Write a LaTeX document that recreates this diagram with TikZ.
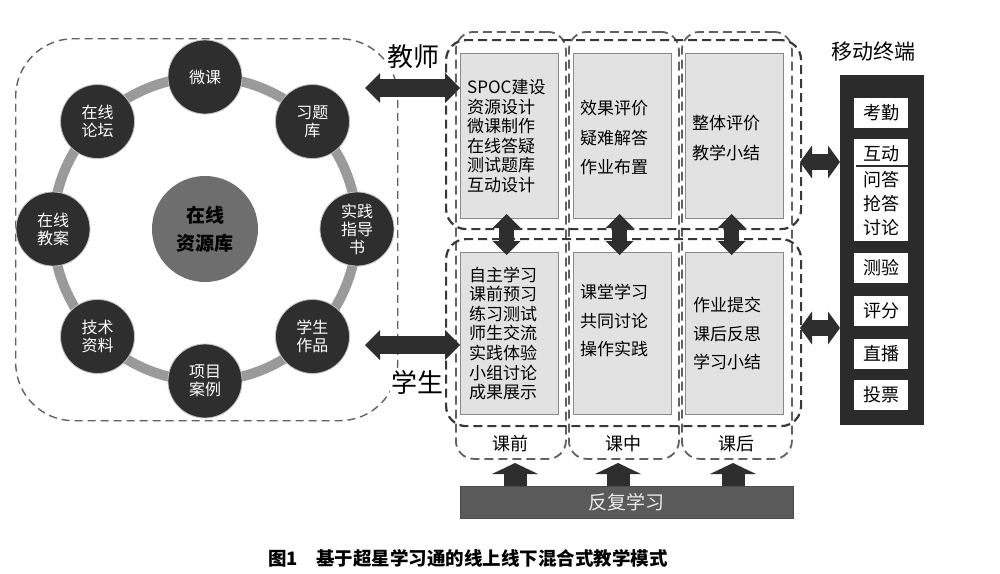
\documentclass[tikz,border=0pt]{standalone}
\usepackage{fontspec}
\setmainfont{Noto Sans CJK SC}
\usetikzlibrary{arrows.meta,calc}
\definecolor{dk}{HTML}{2E2E2E}
\definecolor{ringc}{HTML}{9A9A9A}
\definecolor{hubc}{HTML}{6E6E6E}
\definecolor{boxc}{HTML}{E2E2E2}
\definecolor{boxd}{HTML}{8A8A8A}
\definecolor{barc}{HTML}{5A5A5A}
\definecolor{mobc}{HTML}{2B2B2B}
\tikzset{
  bigdash/.style={draw=black!62, dash pattern=on 8pt off 5pt, line width=1.4pt, rounded corners=58pt, inner sep=0pt},
  rowgrp/.style={draw=black!78, dash pattern=on 9pt off 5pt, line width=2.2pt, rounded corners=20pt, inner sep=0pt, anchor=north west},
  colgrp/.style={draw=black!62, dash pattern=on 9pt off 5pt, line width=1.8pt, rounded corners=18pt, inner sep=0pt, anchor=north west},
  ringline/.style={draw=ringc, line width=10pt},
  hub/.style={circle, fill=hubc, minimum size=106pt, inner sep=0pt, align=center, font=\bfseries\fontsize{19}{28}\selectfont},
  sat/.style={circle, fill=dk, draw=black!25, line width=0.8pt, minimum size=74pt, inner sep=0pt, text=white, align=center, font=\fontsize{16}{18}\selectfont},
  graybox/.style={rectangle, fill=boxc, draw=boxd, line width=1pt, inner sep=0pt, anchor=north west, minimum width=98pt},
  boxtxt/.style={inner sep=0pt, align=left, anchor=west, font=\fontsize{17}{19.6}\selectfont},
  boxtxtw/.style={inner sep=0pt, align=left, anchor=west, font=\fontsize{17}{29.5}\selectfont},
  bigfont/.style={fill=white, inner sep=1pt, font=\fontsize{26}{30}\selectfont},
  phase/.style={inner sep=0pt, font=\fontsize{18}{20}\selectfont},
  dbl/.style n args={3}{draw=dk, line width=#1, arrows={Triangle[width=#2,length=#3,line width=0pt]-Triangle[width=#2,length=#3,line width=0pt]}},
  sgl/.style n args={3}{draw=dk, line width=#1, arrows={-Triangle[width=#2,length=#3,line width=0pt]}},
  mob/.style={rectangle, fill=mobc, inner sep=0pt, anchor=north west},
  wbox/.style={rectangle, fill=white, inner sep=0pt, minimum width=54pt, minimum height=30pt, font=\fontsize{18}{20}\selectfont},
  wtxt/.style={inner sep=0pt, align=center, font=\fontsize{18}{24}\selectfont},
  barbox/.style={rectangle, fill=barc, draw=black!70, line width=0.6pt, inner sep=0pt, anchor=north west, text=black!8, font=\fontsize{19}{22}\selectfont},
}
\begin{document}
\begin{tikzpicture}[x=1pt,y=-1pt]
\useasboundingbox[fill=white] (0,0) rectangle (1000,573);

% left resource group
\node[bigdash, anchor=north west, minimum width=382pt, minimum height=382pt] (lg) at (15,38) {};

% column groups and row groups
\node[colgrp, minimum width=110pt, minimum height=427pt] (cg1) at (455,31) {};
\node[colgrp, minimum width=110pt, minimum height=427pt] (cg2) at (568,31) {};
\node[colgrp, minimum width=110pt, minimum height=427pt] (cg3) at (681,31) {};
\node[rowgrp, minimum width=355pt, minimum height=189pt] (rg1) at (445,39) {};
\node[rowgrp, minimum width=355pt, minimum height=187pt] (rg2) at (445,238) {};

% gray boxes
\node[graybox, minimum height=165pt] (b1) at (460,53) {};
\node[graybox, minimum height=165pt] (b2) at (573,53) {};
\node[graybox, minimum height=165pt] (b3) at (685,53) {};
\node[graybox, minimum height=162pt] (c1) at (460,252) {};
\node[graybox, minimum height=162pt] (c2) at (573,252) {};
\node[graybox, minimum height=162pt] (c3) at (685,252) {};

\node[boxtxt] (t1) at ([xshift=7pt]b1.west) {SPOC建设\\资源设计\\微课制作\\在线答疑\\测试题库\\互动设计};
\node[boxtxtw] (t2) at ([xshift=7pt,yshift=-2pt]b2.west) {效果评价\\疑难解答\\作业布置};
\node[boxtxtw] (t3) at ([xshift=7pt,yshift=-2pt]b3.west) {整体评价\\教学小结};
\node[boxtxt] (u1t) at ([xshift=9pt]c1.west) {自主学习\\课前预习\\练习测试\\师生交流\\实践体验\\小组讨论\\成果展示};
\node[boxtxtw, font=\fontsize{17}{28.5}\selectfont] (u2t) at ([xshift=7pt,yshift=13pt]c2.west) {课堂学习\\共同讨论\\操作实践};
\node[boxtxtw, font=\fontsize{17}{28.5}\selectfont] (u3t) at ([xshift=8pt]c3.west) {作业提交\\课后反思\\学习小结};

% phase labels
\node[phase] (p1) at ([yshift=16pt]cg1.south) {课前};
\node[phase] (p2) at ([yshift=16pt]cg2.south) {课中};
\node[phase] (p3) at ([yshift=16pt]cg3.south) {课后};

% ring and circles
\coordinate (cc) at (205,229);
\draw[ringline] (cc) circle[radius=152pt];
\node[hub] (hub) at (cc) {在线\\资源库};
\node[sat] (s1) at ($(cc)+(90:152pt)$) {微课};
\node[sat] (s2) at ($(cc)+(45:152pt)$) {习题\\库};
\node[sat] (s3) at ($(cc)+(0:152pt)$) {实践\\指导\\书};
\node[sat] (s4) at ($(cc)+(-45:152pt)$) {学生\\作品};
\node[sat] (s5) at ($(cc)+(-90:152pt)$) {项目\\案例};
\node[sat] (s6) at ($(cc)+(-135:152pt)$) {技术\\资料};
\node[sat] (s7) at ($(cc)+(180:152pt)$) {在线\\教案};
\node[sat] (s8) at ($(cc)+(135:152pt)$) {在线\\论坛};

% teacher / student labels and arrows
\node[bigfont] (lt) at (413,57) {教师};
\node[bigfont] (ls) at (417,382) {学生};
\coordinate (tA) at (365,88);
\coordinate (sA) at (365,345);
\draw[dbl={18pt}{30pt}{15pt}] (tA) -- (b1.west |- tA);
\draw[dbl={18pt}{30pt}{15pt}] (sA) -- (c1.west |- sA);

% vertical arrows between rows
\draw[dbl={15pt}{28pt}{14pt}] ([xshift=-3pt,yshift=5pt]b1.south) -- ([xshift=-3pt,yshift=-3pt]c1.north);
\draw[dbl={15pt}{28pt}{14pt}] ([xshift=-3pt,yshift=5pt]b2.south) -- ([xshift=-3pt,yshift=-3pt]c2.north);
\draw[dbl={15pt}{28pt}{14pt}] ([xshift=-3pt,yshift=5pt]b3.south) -- ([xshift=-3pt,yshift=-3pt]c3.north);

% repeated learning bar
\node[barbox, minimum width=333pt, minimum height=32pt] (bar) at (460,486) {反复学习};
\coordinate (up1) at (515,463);
\coordinate (up2) at (618,463);
\coordinate (up3) at (733,463);
\draw[sgl={23pt}{46pt}{11pt}] (bar.north -| up1) -- (up1);
\draw[sgl={23pt}{46pt}{11pt}] (bar.north -| up2) -- (up2);
\draw[sgl={23pt}{46pt}{11pt}] (bar.north -| up3) -- (up3);

% mobile terminal
\node[inner sep=0pt, font=\fontsize{21}{24}\selectfont] (mt) at (873,52) {移动终端};
\node[mob, minimum width=84pt, minimum height=350pt] (mob) at (840,75) {};
\node[wbox] (m1) at (881,113) {考勤};
\node[wbox, minimum height=102pt] (m2) at (881,190) {};
\node[wtxt] (m2a) at (881,154) {互动};
\draw[draw=dk, line width=1.6pt] (856,166) -- (910,166);
\node[wtxt] (m2b) at (881,203) {问答\\抢答\\讨论};
\node[wbox] (m3) at (881,268) {测验};
\node[wbox] (m4) at (881,311) {评分};
\node[wbox] (m5) at (881,354) {直播};
\node[wbox] (m6) at (881,395) {投票};

\coordinate (r1) at (800,162);
\coordinate (r2) at (800,328);
\draw[dbl={16pt}{33pt}{12pt}] (r1) -- (mob.west |- r1);
\draw[dbl={16pt}{33pt}{12pt}] (r2) -- (mob.west |- r2);

% caption
\node[inner sep=0pt, font=\bfseries\fontsize{18.5}{22}\selectfont] (cap) at (468,558) {图1\hspace{1em}基于超星学习通的线上线下混合式教学模式};
\end{tikzpicture}
\end{document}
